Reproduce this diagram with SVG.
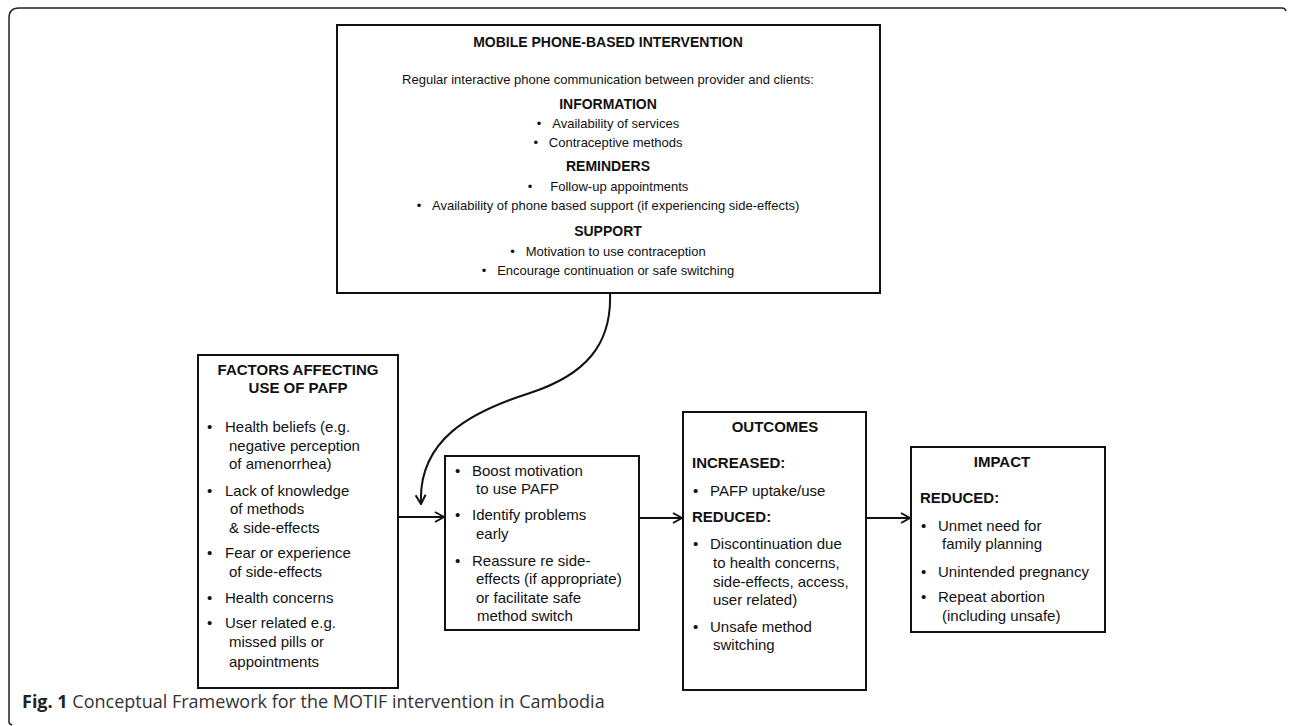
<svg xmlns="http://www.w3.org/2000/svg" width="1290" height="726" viewBox="0 0 1290 726">
<style>
text{font-family:"Liberation Sans",Arial,sans-serif;fill:#111;}
.t{font-size:13px;}
.s{font-size:14px;font-weight:bold;}
.b{font-size:15px;}
.h{font-weight:bold;}
.box{fill:#fff;stroke:#111;stroke-width:2;}
.conn{fill:none;stroke:#111;stroke-width:2;}
.cap{font-family:"Open Sans","Liberation Sans",sans-serif;font-size:18px;fill:#333;}
</style>
<defs>
<marker id="arr" viewBox="0 0 12 12" refX="11" refY="6" markerWidth="12" markerHeight="12" markerUnits="userSpaceOnUse" orient="auto">
<path d="M2,1 L11,6 L2,11" fill="none" stroke="#111" stroke-width="2"/>
</marker>
</defs>
<path d="M9,722 Q9,724 12,725 M9,722 L9,18 Q9,8 19,8 L1282,8 Q1285,8 1286,11" fill="none" stroke="#222" stroke-width="1.5"/>

<g id="intervention">
<rect class="box" x="337" y="25" width="543" height="268"/>
<text class="s" x="608" y="47" text-anchor="middle">MOBILE PHONE-BASED INTERVENTION</text>
<text class="t" x="608" y="84" text-anchor="middle">Regular interactive phone communication between provider and clients:</text>
<text class="s" x="608" y="109" text-anchor="middle">INFORMATION</text>
<text class="t" x="608" y="128" text-anchor="middle">•&#160;&#160;&#160;Availability of services</text>
<text class="t" x="608" y="147" text-anchor="middle">•&#160;&#160;&#160;Contraceptive methods</text>
<text class="s" x="608" y="171" text-anchor="middle">REMINDERS</text>
<text class="t" x="608" y="191" text-anchor="middle">•&#160;&#160;&#160;&#160;&#160;Follow-up appointments</text>
<text class="t" x="608" y="210" text-anchor="middle">•&#160;&#160;&#160;Availability of phone based support (if experiencing side-effects)</text>
<text class="s" x="608" y="236" text-anchor="middle">SUPPORT</text>
<text class="t" x="608" y="256" text-anchor="middle">•&#160;&#160;&#160;Motivation to use contraception</text>
<text class="t" x="608" y="275" text-anchor="middle">•&#160;&#160;&#160;Encourage continuation or safe switching</text>
</g>

<g id="factors">
<rect class="box" x="198" y="355" width="200" height="333"/>
<text class="b h" x="298" y="375" text-anchor="middle">FACTORS AFFECTING</text>
<text class="b h" x="298" y="393" text-anchor="middle">USE OF PAFP</text>
<g class="b">
<text x="207" y="432">•</text><text x="225" y="432">Health beliefs (e.g.</text>
<text x="229" y="451">negative perception</text>
<text x="229" y="469">of amenorrhea)</text>
<text x="207" y="496">•</text><text x="225" y="496">Lack of knowledge</text>
<text x="230" y="514">of methods</text>
<text x="229" y="533">&amp; side-effects</text>
<text x="207" y="558">•</text><text x="225" y="558">Fear or experience</text>
<text x="229" y="577">of side-effects</text>
<text x="207" y="603">•</text><text x="225" y="603">Health concerns</text>
<text x="207" y="628">•</text><text x="225" y="628">User related e.g.</text>
<text x="229" y="647">missed pills or</text>
<text x="229" y="667">appointments</text>
</g>
</g>

<g id="mechanism">
<rect class="box" x="445" y="456" width="194" height="174"/>
<g class="b">
<text x="455" y="476">•</text><text x="472" y="476">Boost motivation</text>
<text x="476" y="494">to use PAFP</text>
<text x="455" y="520">•</text><text x="472" y="520">Identify problems</text>
<text x="476" y="539">early</text>
<text x="455" y="566">•</text><text x="472" y="566">Reassure re side-</text>
<text x="476" y="584">effects (if appropriate)</text>
<text x="476" y="603">or facilitate safe</text>
<text x="477" y="621">method switch</text>
</g>
</g>

<g id="outcomes">
<rect class="box" x="683" y="412" width="183" height="278"/>
<text class="b h" x="775" y="432" text-anchor="middle">OUTCOMES</text>
<g class="b">
<text class="h" x="692" y="468">INCREASED:</text>
<text x="693" y="496">•</text><text x="710" y="496">PAFP uptake/use</text>
<text class="h" x="692" y="522">REDUCED:</text>
<text x="693" y="549">•</text><text x="710" y="549">Discontinuation due</text>
<text x="713" y="568">to health concerns,</text>
<text x="713" y="587">side-effects, access,</text>
<text x="713" y="605">user related)</text>
<text x="693" y="632">•</text><text x="710" y="632">Unsafe method</text>
<text x="713" y="650">switching</text>
</g>
</g>

<g id="impact">
<rect class="box" x="911" y="447" width="194" height="185"/>
<text class="b h" x="1002" y="467" text-anchor="middle">IMPACT</text>
<g class="b">
<text class="h" x="920" y="503">REDUCED:</text>
<text x="921" y="531">•</text><text x="938" y="531">Unmet need for</text>
<text x="942" y="549">family planning</text>
<text x="921" y="577">•</text><text x="938" y="577">Unintended pregnancy</text>
<text x="921" y="602">•</text><text x="938" y="602">Repeat abortion</text>
<text x="942" y="621">(including unsafe)</text>
</g>
</g>

<g id="connectors">
<path class="conn" d="M610,293 C612,345 585,375 530,393 C470,412 418,440 421,504" marker-end="url(#arr)"/>
<path class="conn" d="M398,517 L444,517" marker-end="url(#arr)"/>
<path class="conn" d="M639,518 L682,518" marker-end="url(#arr)"/>
<path class="conn" d="M866,518 L910,518" marker-end="url(#arr)"/>
</g>

<text class="cap" x="22" y="708"><tspan font-weight="bold" fill="#222">Fig. 1</tspan> Conceptual Framework for the MOTIF intervention in Cambodia</text>
</svg>
